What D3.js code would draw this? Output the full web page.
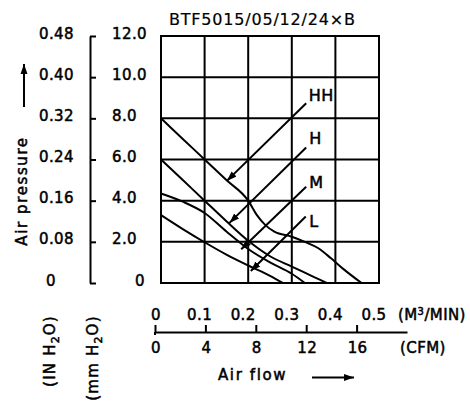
<!DOCTYPE html>
<html>
<head>
<meta charset="utf-8">
<script src="https://cdn.jsdelivr.net/npm/d3@7"></script>
<style>
    body { margin: 0; background: #fff; }
    text { font-family: "DejaVu Sans", sans-serif; fill: #000; stroke: #000; stroke-width: 0.5px; }
</style>
</head>
<body>
<div id="container"></div>
<script>
// tick values
const mmTicks = [0, 2, 4, 6, 8, 10, 12];
const mmLabels = ["0", "2.0", "4.0", "6.0", "8.0", "10.0", "12.0"];
const inLabels = ["0", "0.08", "0.16", "0.24", "0.32", "0.40", "0.48"];
const flowTicks = [0, 0.1, 0.2, 0.3, 0.4, 0.5];
const flowLabels = ["0", "0.1", "0.2", "0.3", "0.4", "0.5"];
const cfmTicks = [0, 4, 8, 12, 16];

// curves: [air flow m3/min, pressure mmH2O]
const curveHH = [[0, 8.0], [0.05, 7.0], [0.1, 6.0], [0.15, 5.0], [0.2, 4.0], [0.22, 3.3], [0.24, 2.8], [0.26, 2.5], [0.3, 2.25], [0.33, 2.0], [0.36, 1.7], [0.39, 1.2], [0.42, 0.65], [0.46, 0]];
const curveH = [[0, 6.0], [0.05, 5.0], [0.1, 4.0], [0.15, 3.0], [0.2, 2.05], [0.25, 1.3], [0.3, 0.8], [0.35, 0.3], [0.38, 0]];
const curveM = [[0, 4.35], [0.05, 3.95], [0.1, 3.4], [0.15, 2.5], [0.2, 1.65], [0.25, 1.0], [0.3, 0.45], [0.33, 0]];
const curveL = [[0, 3.3], [0.05, 2.62], [0.1, 1.98], [0.15, 1.38], [0.2, 0.85], [0.25, 0.35], [0.28, 0]];

// label, leader start, leader tip (data units)
const seriesNames = ["HH", "H", "M", "L"];
const leaderFrom = [[0.333, 8.73], [0.333, 6.58], [0.333, 4.68], [0.332, 3.23]];
const leaderTo = [[0.151, 4.96], [0.157, 2.92], [0.184, 1.64], [0.206, 0.58]];
const labelAt = [[0.339, 8.84], [0.340, 6.75], [0.340, 4.62], [0.340, 2.72]];

const W = 470, H = 401;

const svg = d3.select("#container")
    .append("svg")
    .attr("width", W)
    .attr("height", H);

svg.append("defs").append("marker")
    .attr("id", "head")
    .attr("markerUnits", "userSpaceOnUse")
    .attr("viewBox", "0 0 10 10")
    .attr("refX", 10).attr("refY", 5)
    .attr("markerWidth", 10).attr("markerHeight", 10)
    .attr("orient", "auto")
    .append("path")
    .attr("d", "M0,1.5 L10,5 L0,8.5 Z")
    .attr("fill", "#000");

const x = d3.scaleLinear().domain([0, 0.5]).range([161, 379]);
const y = d3.scaleLinear().domain([0, 12]).range([283, 36]);
const xCfm = d3.scaleLinear().domain([0, 20]).range([155, 407]);

// grid
const grid = svg.append("g").attr("stroke", "#000").attr("stroke-width", 2);
grid.selectAll(".v").data(flowTicks).enter().append("line")
    .attr("x1", d => x(d)).attr("x2", d => x(d))
    .attr("y1", y(0) + 1).attr("y2", y(12) - 1);
grid.selectAll(".h").data(mmTicks).enter().append("line")
    .attr("y1", d => y(d)).attr("y2", d => y(d))
    .attr("x1", x(0) - 1).attr("x2", x(0.5) + 1);

// title
svg.append("text")
    .attr("x", 169).attr("y", 25)
    .style("font-size", "16px").style("letter-spacing", "0.8px")
    .style("stroke-width", "0.2px")
    .text("BTF5015/05/12/24×B");

// curves
const line = d3.line()
    .x(d => x(d[0]))
    .y(d => y(d[1]))
    .curve(d3.curveMonotoneX);

svg.selectAll(".curve")
    .data([curveHH, curveH, curveM, curveL])
    .enter()
    .append("path")
    .attr("d", line)
    .attr("fill", "none")
    .attr("stroke", "#000")
    .attr("stroke-width", 2);

// leaders and labels
seriesNames.forEach((name, i) => {
    svg.append("line")
        .attr("x1", x(leaderFrom[i][0])).attr("y1", y(leaderFrom[i][1]))
        .attr("x2", x(leaderTo[i][0])).attr("y2", y(leaderTo[i][1]))
        .attr("stroke", "#000").attr("stroke-width", 2)
        .attr("marker-end", "url(#head)");
    svg.append("text")
        .attr("x", x(labelAt[i][0])).attr("y", y(labelAt[i][1]))
        .style("font-size", "16px").style("letter-spacing", "0.5px")
        .text(name);
});

// Y axis
const yAxis = svg.append("g")
    .attr("transform", "translate(90,0)")
    .call(d3.axisRight(y).tickValues(mmTicks).tickSize(6).tickSizeOuter(0).tickFormat(""));
yAxis.selectAll("path, line").attr("stroke", "#000").attr("stroke-width", 2);

svg.selectAll(".mmLab").data(mmTicks).enter().append("text")
    .attr("x", (d, i) => i === 0 ? 135 : 112)
    .attr("y", d => y(d) - 2)
    .attr("dominant-baseline", "middle")
    .style("font-size", "15px").style("letter-spacing", "0.4px")
    .text((d, i) => mmLabels[i]);

svg.selectAll(".inLab").data(mmTicks).enter().append("text")
    .attr("x", (d, i) => i === 0 ? 46 : 39)
    .attr("y", d => y(d) - 2)
    .attr("dominant-baseline", "middle")
    .style("font-size", "15px").style("letter-spacing", "0.4px")
    .text((d, i) => inLabels[i]);

// Y titles
svg.append("text")
    .attr("transform", "translate(27,191) rotate(-90)")
    .attr("text-anchor", "middle")
    .style("font-size", "15px").style("letter-spacing", "1.6px")
    .text("Air pressure");
svg.append("line")
    .attr("x1", 24).attr("y1", 107).attr("x2", 24).attr("y2", 64)
    .attr("stroke", "#000").attr("stroke-width", 2)
    .attr("marker-end", "url(#head)");

const unitY = [[55, 351, "(IN H", "O)"], [98, 358, "(mm H", "O)"]];
unitY.forEach(u => {
    const t = svg.append("text")
        .attr("transform", `translate(${u[0]},${u[1]}) rotate(-90)`)
        .attr("text-anchor", "middle")
        .style("font-size", "15px").style("letter-spacing", "1.2px");
    t.append("tspan").text(u[2]);
    t.append("tspan").attr("dy", 4).style("font-size", "11px").text("2");
    t.append("tspan").attr("dy", -4).text(u[3]);
});

// X axis
const xAxis = svg.append("g")
    .attr("transform", "translate(0,332)")
    .call(d3.axisTop(xCfm).tickValues(cfmTicks).tickSize(7).tickSizeOuter(0).tickFormat(""));
xAxis.selectAll("path, line").attr("stroke", "#000").attr("stroke-width", 2);
// zero tick runs a little below the line
xAxis.append("line")
    .attr("x1", xCfm(0)).attr("x2", xCfm(0))
    .attr("y1", 0).attr("y2", 3)
    .attr("stroke", "#000").attr("stroke-width", 2);

svg.selectAll(".flowLab").data(flowTicks).enter().append("text")
    .attr("x", d => x(d) - 5)
    .attr("y", 320)
    .attr("text-anchor", "middle")
    .style("font-size", "15px").style("letter-spacing", "0.4px")
    .text((d, i) => flowLabels[i]);

svg.selectAll(".cfmLab").data(cfmTicks).enter().append("text")
    .attr("x", d => xCfm(d) + 1)
    .attr("y", 353)
    .attr("text-anchor", "middle")
    .style("font-size", "15px").style("letter-spacing", "0.4px")
    .text(d => d);

const m3 = svg.append("text").attr("x", 398).attr("y", 320)
    .style("font-size", "15px").style("letter-spacing", "0.4px");
m3.append("tspan").text("(M");
m3.append("tspan").attr("dy", -5).style("font-size", "10px").text("3");
m3.append("tspan").attr("dy", 5).text("/MIN)");

svg.append("text").attr("x", 400).attr("y", 353)
    .style("font-size", "15px").style("letter-spacing", "0.4px")
    .text("(CFM)");

svg.append("text").attr("x", 218).attr("y", 380)
    .style("font-size", "15px").style("letter-spacing", "1.6px")
    .text("Air flow");
svg.append("line")
    .attr("x1", 312).attr("y1", 377.5).attr("x2", 354).attr("y2", 377.5)
    .attr("stroke", "#000").attr("stroke-width", 2)
    .attr("marker-end", "url(#head)");
</script>
</body>
</html>
